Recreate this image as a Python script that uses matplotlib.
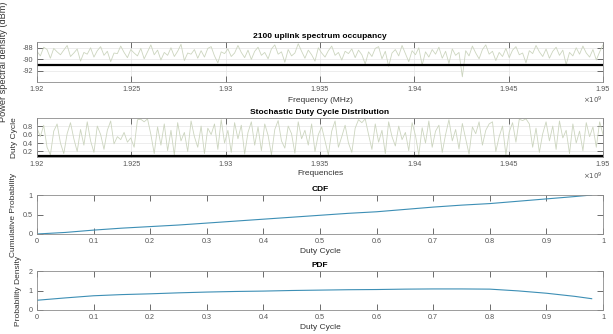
"""
Spectrum occupancy overview for the 2100 MHz uplink band:
measured PSD, per-bin duty cycle, and the duty cycle CDF / PDF.
"""

import numpy as np
import matplotlib
matplotlib.use("Agg")
import matplotlib.pyplot as plt
from matplotlib.ticker import FuncFormatter

plt.rcParams['font.family'] = ['Liberation Sans', 'DejaVu Sans']
plt.rcParams['axes.unicode_minus'] = False

# Band edges (Hz) and the sweep readings.
F_START, F_STOP = 1.92e9, 1.95e9

PSD_DBM = [
    -88.6, -89.4, -87.9, -88.3, -89.8, -88.1, -88.7, -89.2, -88.4, -87.6, -89.5, -88.9, -88.2, -90.3, -88.8, -89.1, -88.0, -89.6, -88.5, -87.8,
    -89.3, -88.6, -90.4, -88.9, -89.0, -87.7, -88.8, -89.7, -88.3, -88.9, -89.4, -88.1, -89.9, -88.7, -87.5, -89.2, -88.4, -90.1, -88.8, -89.3,
    -88.0, -89.5, -88.6, -87.4, -90.2, -88.9, -89.1, -88.3, -89.8, -88.5, -89.6, -88.1, -87.8, -89.4, -90.6, -88.7, -89.0, -88.2, -89.5, -88.9,
    -87.6, -88.8, -89.7, -88.4, -90.0, -88.6, -87.9, -89.3, -88.8, -89.9, -88.2, -87.5, -89.1, -88.7, -90.5, -88.3, -89.4, -88.9, -87.3, -88.6,
    -89.8, -88.4, -89.2, -90.3, -88.0, -88.9, -89.6, -88.5, -87.7, -89.3, -88.8, -90.1, -88.6, -89.0, -88.2, -89.7, -88.4, -89.2, -90.8, -88.7,
    -89.5, -88.1, -87.8, -89.9, -88.6, -91.2, -88.9, -88.3, -89.4, -87.6, -89.0, -90.4, -88.5, -89.2, -88.0, -91.0, -88.7, -89.6, -88.3, -89.1,
    -87.9, -89.8, -88.6, -90.7, -88.2, -89.3, -88.8, -93.0, -88.5, -89.4, -87.7, -88.9, -89.9, -88.3, -87.5, -89.1, -88.6, -90.2, -88.8, -89.5,
    -88.1, -89.7, -88.4, -87.8, -89.2, -88.9, -90.6, -88.5, -89.0, -87.6, -88.7, -89.5, -88.2, -89.8, -88.6, -87.9, -89.3, -88.4, -90.9, -88.8,
    -89.4, -88.0, -89.1, -87.7, -88.9, -89.6, -88.3, -90.1, -88.7, -87.5,
]
PSD_THRESHOLD = -91.0

DUTY_CYCLE = [
    0.75, 0.55, 0.82, 0.30, 0.12, 0.68, 0.85, 0.40, 0.15, 0.62, 0.88, 0.50, 0.20, 0.72, 0.35, 0.90, 0.45, 0.18, 0.80, 0.60,
    0.25, 0.70, 0.92, 0.38, 0.55, 0.48, 0.65, 0.42, 0.52, 0.30, 0.95, 0.96, 0.90, 0.97, 0.60, 0.15, 0.78, 0.35, 0.85, 0.22,
    0.70, 0.12, 0.88, 0.45, 0.65, 0.20, 0.92, 0.55, 0.30, 0.80, 0.15, 0.75, 0.60, 0.85, 0.25, 0.95, 0.40, 0.70, 0.18, 0.88,
    0.50, 0.82, 0.14, 0.65, 0.90, 0.35, 0.78, 0.22, 0.85, 0.58, 0.12, 0.72, 0.93, 0.45, 0.28, 0.80, 0.62, 0.16, 0.90, 0.50,
    0.70, 0.35, 0.85, 0.20, 0.60, 0.78, 0.45, 0.12, 0.68, 0.92, 0.30, 0.55, 0.82, 0.40, 0.18, 0.75, 0.95, 0.88, 0.97, 0.60,
    0.25, 0.85, 0.42, 0.70, 0.15, 0.90, 0.55, 0.33, 0.80, 0.48, 0.65, 0.22, 0.88, 0.58, 0.12, 0.76, 0.40, 0.92, 0.30, 0.68,
    0.82, 0.18, 0.60, 0.95, 0.45, 0.72, 0.26, 0.86, 0.50, 0.14, 0.78, 0.62, 0.90, 0.35, 0.70, 0.85, 0.90, 0.20, 0.55, 0.80,
    0.12, 0.66, 0.88, 0.42, 0.96, 0.93, 0.97, 0.85, 0.30, 0.75, 0.18, 0.62, 0.90, 0.45, 0.80, 0.25, 0.92, 0.52, 0.70, 0.15,
    0.85, 0.40, 0.68, 0.22, 0.88, 0.55, 0.78, 0.30, 0.90, 0.60,
]
DUTY_THRESHOLD = 0.1

# Duty cycle statistics (kernel estimates).
DC_GRID = [0.0, 0.05, 0.1, 0.15, 0.2, 0.25, 0.3, 0.35, 0.4, 0.45, 0.5,
           0.55, 0.6, 0.65, 0.7, 0.75, 0.8, 0.85, 0.9, 0.95, 0.98]
DC_CDF = [0.0, 0.04, 0.10, 0.15, 0.19, 0.23, 0.28, 0.33, 0.38, 0.43, 0.48,
          0.53, 0.57, 0.63, 0.69, 0.74, 0.78, 0.84, 0.90, 0.96, 1.0]
DC_PDF = [0.50, 0.62, 0.73, 0.79, 0.83, 0.88, 0.92, 0.95, 0.97, 1.00, 1.02,
          1.04, 1.05, 1.07, 1.08, 1.08, 1.07, 0.98, 0.86, 0.70, 0.58]

NOISE_COLOR = "#ccd5bf"
KDE_COLOR = "#3d8fb5"
TICK_COLOR = "#555555"
SPINE_COLOR = "#8c8c8c"

W, H = 613, 334
fig = plt.figure(figsize=(W / 100, H / 100), dpi=100)


def make_axes(top, bottom):
    left, right = 37, 603
    return fig.add_axes([left / W, (H - bottom) / H, (right - left) / W, (bottom - top) / H])


def style(ax, label_x):
    ax.tick_params(direction="in", length=4, width=0.6, top=True, right=True,
                   labelsize=5.2, colors=TICK_COLOR, pad=3)
    for s in ax.spines.values():
        s.set_color(SPINE_COLOR)
        s.set_linewidth(0.6)
    ax.grid(True, color="#e6e6e6", linewidth=0.5)
    ax.set_axisbelow(True)
    ax.yaxis.set_label_coords((label_x - 37) / 566, 0.5)


ghz = FuncFormatter(lambda v, _: f"{v / 1e9:g}")
plain = FuncFormatter(lambda v, _: f"{v:g}")
freqs = np.linspace(F_START, F_STOP, len(PSD_DBM))
freqs_dc = np.linspace(F_START, F_STOP, len(DUTY_CYCLE))

# PSD sweep
ax1 = make_axes(42, 82)
ax1.plot(freqs, PSD_DBM, color=NOISE_COLOR, lw=0.6)
ax1.axhline(PSD_THRESHOLD, color="black", lw=1.6)
ax1.set_xlim(F_START, F_STOP)
ax1.set_ylim(-93.9, -87.0)
ax1.set_yticks([-92, -90, -88])
ax1.set_xticks(np.arange(1.92e9, 1.9501e9, 0.005e9))
ax1.xaxis.set_major_formatter(ghz)
ax1.set_title("2100 uplink spectrum occupancy", fontsize=6, fontweight="bold", pad=3)
ax1.set_xlabel("Frequency (MHz)", fontsize=6, color="#333333", labelpad=3)
ax1.set_ylabel("Power spectral density (dBm)", fontsize=6.6, color="#333333")
style(ax1, 8)
ax1.text(1.0, -0.45, r"$\times10^9$", transform=ax1.transAxes, ha="right", va="center",
         fontsize=5, color=TICK_COLOR)

# Duty cycle per frequency bin
ax2 = make_axes(118, 157)
ax2.plot(freqs_dc, DUTY_CYCLE, color=NOISE_COLOR, lw=0.6)
ax2.axhline(DUTY_THRESHOLD, color="black", lw=1.6)
ax2.set_xlim(F_START, F_STOP)
ax2.set_ylim(0.07, 0.99)
ax2.set_yticks([0.2, 0.4, 0.6, 0.8])
ax2.set_xticks(np.arange(1.92e9, 1.9501e9, 0.005e9))
ax2.xaxis.set_major_formatter(ghz)
ax2.set_title("Stochastic Duty Cycle Distribution", fontsize=6, fontweight="bold", pad=3)
ax2.set_xlabel("Frequencies", fontsize=6, color="#333333", labelpad=1)
ax2.set_ylabel("Duty Cycle", fontsize=6, color="#333333")
style(ax2, 18)
ax2.text(1.0, -0.5, r"$\times10^9$", transform=ax2.transAxes, ha="right", va="center",
         fontsize=5, color=TICK_COLOR)

# CDF
ax3 = make_axes(195, 234)
ax3.plot(DC_GRID, DC_CDF, color=KDE_COLOR, lw=0.8)
ax3.set_xlim(0, 1)
ax3.set_ylim(0, 1)
ax3.set_yticks([0, 0.5, 1])
ax3.set_xticks(np.arange(0, 1.01, 0.1))
ax3.xaxis.set_major_formatter(plain)
ax3.yaxis.set_major_formatter(plain)
ax3.set_title("CDF", fontsize=6, fontweight="bold", pad=3)
ax3.set_xlabel("Duty Cycle", fontsize=6, color="#333333", labelpad=2)
ax3.set_ylabel("Cumulative Probability", fontsize=6, color="#333333")
style(ax3, 17)
ax3.grid(False)

# PDF
ax4 = make_axes(271, 310)
ax4.plot(DC_GRID, DC_PDF, color=KDE_COLOR, lw=0.8)
ax4.set_xlim(0, 1)
ax4.set_ylim(0, 2)
ax4.set_yticks([0, 1, 2])
ax4.set_xticks(np.arange(0, 1.01, 0.1))
ax4.xaxis.set_major_formatter(plain)
ax4.yaxis.set_major_formatter(plain)
ax4.set_title("PDF", fontsize=6, fontweight="bold", pad=3)
ax4.set_xlabel("Duty Cycle", fontsize=6, color="#333333", labelpad=2)
ax4.set_ylabel("Probability Density", fontsize=6, color="#333333")
style(ax4, 22)
ax4.grid(False)

fig.savefig("out.png", dpi=100, facecolor="white")
